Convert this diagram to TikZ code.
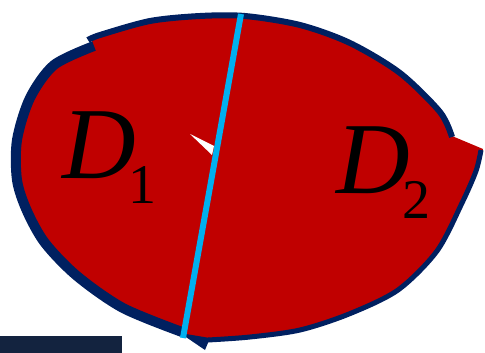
\documentclass[tikz,border=0pt]{standalone}
\usepackage{fontspec}
\setmainfont{Liberation Serif}
\definecolor{regR}{HTML}{C00000}
\definecolor{rimN}{HTML}{002060}
\definecolor{cutB}{HTML}{00B0F0}
\definecolor{barD}{HTML}{13233F}
\tikzset{
  rimthick/.style={draw=rimN, line width=10pt, line join=round},
  rimthin/.style={draw=rimN, line width=6pt, line join=round},
  rimfine/.style={draw=rimN, line width=5pt, line join=round},
  cutline/.style={draw=cutB, line width=6pt},
  dlab/.style={inner sep=0pt, anchor=base west, font=\fontsize{102}{102}\selectfont\itshape},
}
\newcommand{\subnum}[1]{\kern-7pt\raisebox{-25pt}{\fontsize{56}{56}\selectfont\upshape #1}}

\begin{document}
\begin{tikzpicture}[x=1pt,y=-1pt]
\useasboundingbox (0,0) rectangle (485,353);

% ===================== region fill ==========================================
\fill[regR] (452,136) -- (483,149)
  -- plot[smooth] coordinates {(483,149) (478,171) (462,203) (437,251) (398,290)
     (349,314) (300,330) (250,337) (210,340)}
  -- (205,346) -- (182,332)
  -- plot[smooth] coordinates {(182,332) (123,308) (77,276) (45,243) (27,211)
     (17,180) (17,140) (30,98) (54,65) (92,46)}
  -- plot[smooth] coordinates {(92,40) (100,35) (150,21) (200,16) (245,16)
     (300,25) (350,43) (400,73) (440,112) (452,136)}
  -- cycle;

% ===================== rim ==================================================
\draw[rimthick] plot[smooth] coordinates {(182,332) (123,308) (77,276) (45,243)
  (27,211) (17,180) (17,140) (30,98) (54,65) (94,46)};
\draw[rimthin] plot[smooth] coordinates {(88,40) (100,35) (150,21) (200,16)
  (245,16) (300,25) (350,43) (400,73) (440,112) (452,137)};
\draw[rimfine] plot[smooth] coordinates {(481,150) (476,171) (462,203) (437,251)
  (398,290) (349,314) (300,330) (250,337) (208,340)};
\fill[rimN] (180,333) -- (205,350) -- (210,338) -- cycle;

% ===================== cut and labels =======================================
\coordinate (cuttop) at (241,14);
\coordinate (cutbot) at (183,338);
\draw[cutline] (cuttop) -- (cutbot);
\fill[white] (190,134) -- (214,146) -- (212,155) -- cycle;

\node[dlab] (dA) at (62,178) {D\subnum{1}};
\node[dlab] (dB) at (336,193) {D\subnum{2}};

\fill[barD] (0,336) rectangle (122,353);
\end{tikzpicture}
\end{document}
